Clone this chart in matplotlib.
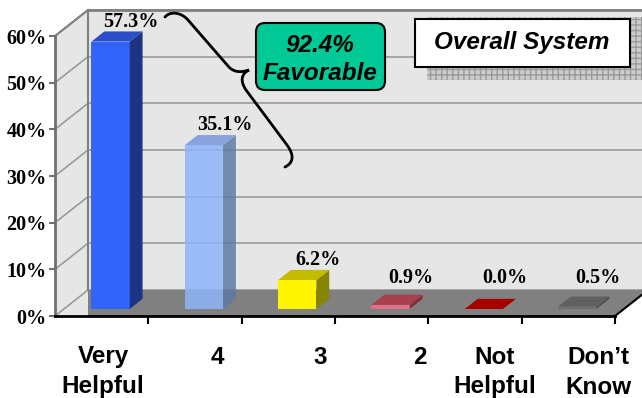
import matplotlib.pyplot as plt
from matplotlib.patches import Polygon, Rectangle, FancyBboxPatch, PathPatch
from matplotlib.path import Path

# survey results
categories = [["Very", "Helpful"], ["4"], ["3"], ["2"], ["Not", "Helpful"], ["Don\u2019t", "Know"]]
values = [57.3, 35.1, 6.2, 0.9, 0.0, 0.5]
favorable = 92.4
title = "Overall System"

front_colors = ['#3264fc', '#8db4f8', '#fff500', '#e07088', '#a00000', '#707070']
side_colors = ['#1c3482', '#5e7aa2', '#868400', '#803040', '#6a0000', '#4e4e4e']
top_colors = ['#2a4ec8', '#7898dc', '#c4bc00', '#a8404e', '#a80000', '#606060']
bar_alpha = [1, 0.85, 1, 1, 1, 1]

# where the category names sit along the bottom (pixels)
label_px = [103, 217, 320, 420, 495, 598]

serif = 'Liberation Serif'
sans = 'Liberation Sans'

fig = plt.figure(figsize=(6.42, 3.98), dpi=100)
ax = fig.add_axes([55 / 642, 82 / 398, 560 / 642, 280 / 398])
ax.set_xlim(-0.5, 5.5)
ax.set_ylim(0, 60)
ax.patch.set_visible(False)

# depth of the 3d box, in data units
DX = 33 / 93.33
DY = 26 / 4.667
wall = '#e6e6e6'
grid = '#9a9a9a'

# back wall and side wall
ax.add_patch(Polygon([(-0.5 + DX, DY), (6.6, DY), (6.6, 60 + DY), (-0.5 + DX, 60 + DY)],
                     closed=True, fc=wall, ec='none', clip_on=False, zorder=0))
ax.add_patch(Polygon([(-0.5, 0), (-0.5, 60), (-0.5 + DX, 60 + DY), (-0.5 + DX, 0)],
                     closed=True, fc=wall, ec='none', clip_on=False, zorder=0))
for v in range(0, 61, 10):
    ax.plot([-0.5 + DX, 6.6], [v + DY, v + DY], color=grid, lw=1.2, clip_on=False, zorder=1)
    ax.plot([-0.5, -0.5 + DX], [v, v + DY], color=grid, lw=1.2, clip_on=False, zorder=1)
ax.plot([-0.5 + DX, 6.6], [60 + DY, 60 + DY], color='#808080', lw=2, clip_on=False, zorder=1)
ax.plot([-0.5, -0.5 + DX], [60, 60 + DY], color='#808080', lw=1.5, clip_on=False, zorder=1)
ax.plot([-0.5 + DX, -0.5 + DX], [DY, 60 + DY], color='#808080', lw=1.5, clip_on=False, zorder=1)

# floor
ax.add_patch(Polygon([(-0.5 + DX, 0), (5.5, 0), (5.5 + DX, DY), (-0.5 + DX, DY)],
                     closed=True, fc='#808080', ec='none', clip_on=False, zorder=2))
ax.plot([5.5, 5.5 + DX], [0, DY], color='black', lw=1.5, clip_on=False, zorder=2)

# 3d bars
d0, bd, w = 0.27, 0.39, 0.41
ddx, ddy = bd * DX, bd * DY
for i, v in enumerate(values):
    x0 = i - w / 2 + d0 * DX
    x1 = x0 + w
    y0 = d0 * DY
    y1 = y0 + v
    a = bar_alpha[i]
    ax.add_patch(Polygon([(x0, y0), (x1, y0), (x1, y1), (x0, y1)], closed=True,
                         fc=front_colors[i], ec='none', alpha=a, clip_on=False, zorder=3))
    ax.add_patch(Polygon([(x1, y0), (x1 + ddx, y0 + ddy), (x1 + ddx, y1 + ddy), (x1, y1)],
                         closed=True, fc=side_colors[i], ec='none', alpha=a, clip_on=False, zorder=3))
    ax.add_patch(Polygon([(x0, y1), (x1, y1), (x1 + ddx, y1 + ddy), (x0 + ddx, y1 + ddy)],
                         closed=True, fc=top_colors[i], ec='none', alpha=a, clip_on=False, zorder=3))
    ax.text(i + d0 * DX + 0.22, y0 + max(v, 2.5) + ddy + 1.0, f'{v:.1f}%',
            ha='center', va='baseline', fontsize=14.5, fontweight='bold',
            family=serif, zorder=4, clip_on=False)

# axes lines and ticks
for s in ['top', 'right']:
    ax.spines[s].set_visible(False)
ax.spines['bottom'].set_color('black')
ax.spines['bottom'].set_linewidth(2)
ax.spines['left'].set_color('#707070')
ax.spines['left'].set_linewidth(2)
ax.set_xticks([i + 0.5 for i in range(len(values))])
ax.set_xticklabels([])
ax.set_yticks(range(0, 61, 10))
ax.set_yticklabels([f'{v}%' for v in range(0, 61, 10)], fontsize=14.5,
                   fontweight='bold', family=serif)
ax.tick_params(axis='x', direction='out', length=6, width=1.5, color='black')
ax.tick_params(axis='y', direction='out', length=4, width=1.5, color='#707070', pad=2)

# decorations in pixel space
over = fig.add_axes([0, 0, 1, 1], zorder=5)
over.set_xlim(0, 642)
over.set_ylim(398, 0)
over.axis('off')

for px, lines in zip(label_px, categories):
    for k, line in enumerate(lines):
        over.text(px, 357 + 30 * k, line, ha='center', va='center', fontsize=17.5,
                  fontweight='bold', family=sans)

# brace pointing at the callout
verts = [(165, 17), (170, 11), (181, 12), (188, 20), (228, 66),
         (233, 72), (240, 73), (249, 70),
         (241, 74), (240, 81), (246, 90), (287, 145),
         (295, 156), (293, 163), (285, 167)]
codes = [Path.MOVETO, Path.CURVE4, Path.CURVE4, Path.CURVE4, Path.LINETO,
         Path.CURVE4, Path.CURVE4, Path.CURVE4,
         Path.CURVE4, Path.CURVE4, Path.CURVE4, Path.LINETO,
         Path.CURVE4, Path.CURVE4, Path.CURVE4]
over.add_patch(PathPatch(Path(verts, codes), fc='none', ec='black', lw=2, capstyle='round'))

over.add_patch(FancyBboxPatch((256, 23), 129, 67, boxstyle='round,pad=0,rounding_size=9',
                              fc='#00c896', ec='black', lw=1.5))
over.text(320, 45, f'{favorable}%', ha='center', va='center', fontsize=17.5,
          fontweight='bold', style='italic', family=sans)
over.text(320, 73, 'Favorable', ha='center', va='center', fontsize=17.5,
          fontweight='bold', style='italic', family=sans)

# title box with a patterned shadow
over.add_patch(Rectangle((427, 17), 220, 63, fc='#cccccc', ec='#9a9a9a', lw=0, hatch='+++'))
over.add_patch(Rectangle((415, 19), 215, 48, fc='white', ec='black', lw=1.5))
over.text(522, 43, title, ha='center', va='center', fontsize=17.5,
          fontweight='bold', style='italic', family=sans)

fig.savefig('out.png', dpi=100)
